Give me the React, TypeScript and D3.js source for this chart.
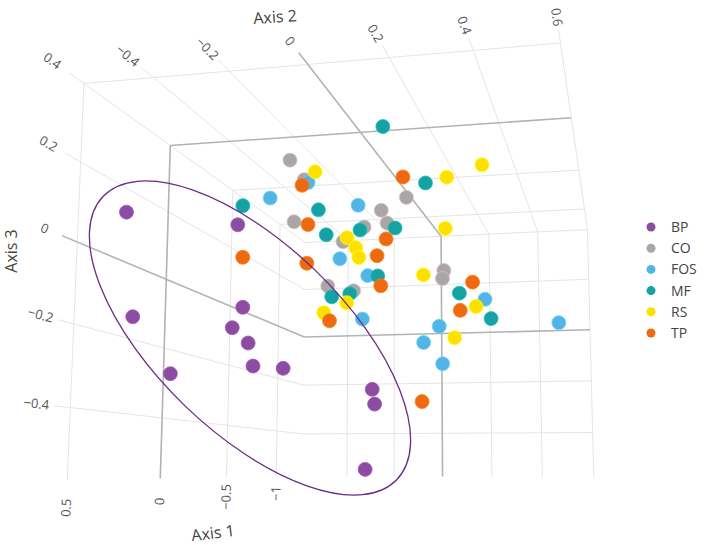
import React, { useEffect, useRef } from 'react';
import * as d3 from 'd3';

const WIDTH = 705;
const HEIGHT = 545;

// PCoA scores [Axis 1, Axis 2, Axis 3] per group
const bp = [
  [0.35, -0.54, 0.109], [0.35, -0.23, 0.061], [0.35, -0.512, -0.163], [0.35, -0.212, -0.148],
  [0.35, -0.239, -0.198], [0.35, -0.196, -0.237], [0.35, -0.182, -0.294], [0.35, -0.103, -0.301],
  [0.35, -0.403, -0.309], [0.35, 0.124, -0.355], [0.35, 0.13, -0.39], [0.35, 0.107, -0.543],
];
const co = [
  [0, -0.212, 0.332], [0, -0.168, 0.272], [0, 0.135, 0.204], [0, 0.062, 0.171],
  [0, -0.197, 0.151], [0, 0.079, 0.134], [0, 0.012, 0.126], [0, -0.05, 0.087],
  [0, 0.241, -0.006], [0, 0.237, -0.028], [0, -0.094, -0.037], [0, -0.018, -0.053],
];
const fos = [
  [0, -0.156, 0.263], [0, -0.271, 0.224], [0, -0.006, 0.189], [0, -0.059, 0.039],
  [0, 0.023, -0.012], [0, 0.008, -0.133], [0, 0.355, -0.089], [0, 0.554, -0.158],
  [0, 0.227, -0.159], [0, 0.183, -0.202], [0, 0.236, -0.261],
];
const mf = [
  [0.1, 0.09, 0.377], [0, 0.19, 0.242], [0, -0.355, 0.206], [0, -0.124, 0.182],
  [0, 0.102, 0.119], [0, 0.0, 0.118], [0, -0.1, 0.109], [0, 0.052, -0.014],
  [0, -0.082, -0.068], [0, -0.029, -0.061], [0, 0.284, -0.07], [0, 0.371, -0.142],
];
const rs = [
  [0, -0.135, 0.293], [0, 0.251, 0.255], [0, 0.351, 0.284], [0, 0.246, 0.111],
  [0, -0.038, 0.098], [0, -0.012, 0.068], [0, -0.003, 0.04], [0, 0.183, -0.016],
  [0, -0.038, -0.086], [0, -0.105, -0.112], [0, 0.33, -0.108], [0, 0.27, -0.191],
];
const tp = [
  [0, -0.174, 0.256], [0, 0.125, 0.263], [0, -0.155, 0.141], [0, 0.076, 0.089],
  [0, 0.05, 0.043], [0, -0.157, 0.03], [0, -0.352, 0.055], [0, 0.061, -0.042],
  [0, -0.088, -0.135], [0, 0.321, -0.041], [0, 0.286, -0.117], [0, 0.178, -0.362],
];

const groupNames = ['BP', 'CO', 'FOS', 'MF', 'RS', 'TP'];
const groupColors = ['#8c4ca1', '#aba5a5', '#55b4e6', '#16a2a2', '#fde000', '#ee6a12'];
const groupData = [bp, co, fos, mf, rs, tp];

const axis1Ticks = [0.5, 0, -0.5, -1];
const axis2Ticks = [-0.4, -0.2, 0, 0.2, 0.4, 0.6];
const axis3Ticks = [0.4, 0.2, 0, -0.2, -0.4];
const axis1Range = [-1.33, 0.57];
const axis2Range = [-0.59, 0.6];
const axis3Range = [-0.57, 0.4];

// where the scene box sits on screen (camera fit)
const frameAnchors: [number[], number[]][] = [
  [[0.5, -0.59, 0.4], [83, 86]],
  [[0.5, 0.6, 0.4], [563, 42]],
  [[0.5, -0.59, -0.57], [65, 477]],
  [[0, -0.59, 0.4], [170, 147]],
  [[0, 0.6, 0.4], [573, 117]],
  [[0, -0.59, -0.57], [158, 477]],
  [[-0.5, -0.59, -0.57], [226, 477]],
  [[-1, -0.59, -0.57], [277, 477]],
  [[-1.33, -0.59, 0.4], [305, 240]],
  [[-1.33, 0.6, 0.4], [588, 232]],
  [[-1.33, -0.59, -0.57], [305, 477]],
  [[-1.33, 0.6, -0.57], [592, 477]],
  [[-1.33, 0, -0.57], [444, 477]],
  [[-1.33, -0.59, 0], [305, 338]],
  [[-1.33, 0.6, 0], [590, 330]],
  [[0.5, -0.59, 0], [79, 243]],
  [[0, 0, 0.4], [361, 133]],
  [[-1.33, 0, 0.4], [440, 235]],
  [[0.5, 0, 0.4], [309, 66]],
  [[-0.5, 0.6, 0.4], [578, 169]],
  [[-1, 0.6, 0.4], [583, 208]],
  [[-0.5, -0.59, 0.4], [232, 190]],
  [[-1, -0.59, 0.4], [280, 224]],
];

function solve(A: number[][], b: number[]) {
  const n = b.length;
  const M = A.map((row, i) => [...row, b[i]]);
  for (let c = 0; c < n; c++) {
    let piv = c;
    for (let r = c + 1; r < n; r++) if (Math.abs(M[r][c]) > Math.abs(M[piv][c])) piv = r;
    [M[c], M[piv]] = [M[piv], M[c]];
    for (let r = 0; r < n; r++) {
      if (r === c) continue;
      const f = M[r][c] / M[c][c];
      for (let k = c; k <= n; k++) M[r][k] -= f * M[c][k];
    }
  }
  return M.map((row, i) => row[n] / row[i]);
}

// least squares fit of a 3x4 perspective matrix
function fitCamera(pairs: [number[], number[]][]) {
  const n = 11;
  const AtA = Array.from({ length: n }, () => new Array(n).fill(0));
  const Atb = new Array(n).fill(0);
  const add = (row: number[], rhs: number) => {
    for (let i = 0; i < n; i++) {
      Atb[i] += row[i] * rhs;
      for (let j = 0; j < n; j++) AtA[i][j] += row[i] * row[j];
    }
  };
  pairs.forEach(([[X, Y, Z], [u, v]]) => {
    add([X, Y, Z, 1, 0, 0, 0, 0, -u * X, -u * Y, -u * Z], u);
    add([0, 0, 0, 0, X, Y, Z, 1, -v * X, -v * Y, -v * Z], v);
  });
  return solve(AtA, Atb);
}

const fmt = (v: number) => (v < 0 ? '\u2212' : '') + String(Math.abs(v));

export default function App() {
  const svgRef = useRef<SVGSVGElement>(null);

  useEffect(() => {
    if (!svgRef.current) return;
    const svg = d3.select(svgRef.current);
    svg.selectAll('*').remove();

    const s1 = d3.scaleLinear().domain(axis1Range).range([0, 1]);
    const s2 = d3.scaleLinear().domain(axis2Range).range([0, 1]);
    const s3 = d3.scaleLinear().domain(axis3Range).range([0, 1]);
    const norm = (p: number[]) => [s1(p[0]), s2(p[1]), s3(p[2])];

    const cam = fitCamera(frameAnchors.map(([d, s]) => [norm(d), s] as [number[], number[]]));
    const proj = (a1: number, a2: number, a3: number): [number, number] => {
      const [X, Y, Z] = norm([a1, a2, a3]);
      const w = cam[8] * X + cam[9] * Y + cam[10] * Z + 1;
      return [
        (cam[0] * X + cam[1] * Y + cam[2] * Z + cam[3]) / w,
        (cam[4] * X + cam[5] * Y + cam[6] * Z + cam[7]) / w,
      ];
    };

    const [a1min, a1max] = axis1Range;
    const [a2min, a2max] = axis2Range;
    const [a3min, a3max] = axis3Range;

    const grid = svg.append('g').attr('fill', 'none');
    const seg = (p: [number, number], q: [number, number], zero: boolean) => {
      grid.append('line')
        .attr('x1', p[0]).attr('y1', p[1]).attr('x2', q[0]).attr('y2', q[1])
        .attr('stroke', zero ? '#b3b3b3' : '#e5e5e5')
        .attr('stroke-width', zero ? 1.6 : 1);
    };

    // non-zero lines first, zero lines on top
    [false, true].forEach(zeroPass => {
      axis1Ticks.filter(t => (t === 0) === zeroPass).forEach(t => {
        seg(proj(t, a2min, a3max), proj(t, a2max, a3max), zeroPass); // ceiling
        seg(proj(t, a2min, a3min), proj(t, a2min, a3max), zeroPass); // left wall
      });
      axis2Ticks.filter(t => (t === 0) === zeroPass).forEach(t => {
        seg(proj(a1min, t, a3max), proj(a1max, t, a3max), zeroPass); // ceiling
        seg(proj(a1min, t, a3min), proj(a1min, t, a3max), zeroPass); // back wall
      });
      axis3Ticks.filter(t => (t === 0) === zeroPass).forEach(t => {
        seg(proj(a1min, a2min, t), proj(a1max, a2min, t), zeroPass); // left wall
        seg(proj(a1min, a2min, t), proj(a1min, a2max, t), zeroPass); // back wall
      });
    });

    // tick labels, aligned with their grid line
    const labels = svg.append('g')
      .style('font-family', "'Open Sans', sans-serif")
      .style('font-size', '13px')
      .attr('fill', '#555');
    const tickLabel = (
      edge: [number, number], inward: [number, number], at: [number, number], text: string,
    ) => {
      const ang = (Math.atan2(inward[1] - edge[1], inward[0] - edge[0]) * 180) / Math.PI;
      labels.append('text')
        .attr('transform', `translate(${at[0]},${at[1]}) rotate(${ang})`)
        .attr('text-anchor', 'middle')
        .attr('dy', '0.35em')
        .text(text);
    };
    axis1Ticks.forEach(t => tickLabel(
      proj(t, a2min, a3min), proj(t, a2min, a3min + 0.1), proj(t, a2min, a3min - 0.064), fmt(t)));
    axis2Ticks.forEach(t => tickLabel(
      proj(a1max, t, a3max), proj(a1max - 0.1, t, a3max), proj(a1max + 0.065, t, a3max), fmt(t)));
    axis3Ticks.forEach(t => tickLabel(
      proj(a1max, a2min, t), proj(a1max - 0.1, a2min, t), proj(a1max + 0.075, a2min, t), fmt(t)));

    // axis titles
    const titles = svg.append('g')
      .style('font-family', "'Open Sans', sans-serif")
      .style('font-size', '16px')
      .attr('fill', '#444')
      .attr('text-anchor', 'middle');
    titles.append('text').attr('transform', 'translate(275,17) rotate(-4)').attr('dy', '0.35em').text('Axis 2');
    titles.append('text').attr('transform', 'translate(213,533) rotate(-7)').attr('dy', '0.35em').text('Axis 1');
    titles.append('text').attr('transform', 'translate(11,251) rotate(-90)').attr('dy', '0.35em').text('Axis 3');

    // markers
    const pts = svg.append('g');
    groupData.forEach((rows, gi) => {
      pts.selectAll(null)
        .data(rows)
        .join('circle')
        .attr('cx', d => proj(d[0], d[1], d[2])[0])
        .attr('cy', d => proj(d[0], d[1], d[2])[1])
        .attr('r', 7)
        .attr('fill', groupColors[gi])
        .attr('stroke', d3.rgb(groupColors[gi]).brighter(0.5).toString())
        .attr('stroke-width', 0.8);
    });

    // BP cluster ellipse
    svg.append('ellipse')
      .attr('transform', 'translate(250,338) rotate(44)')
      .attr('rx', 204)
      .attr('ry', 94)
      .attr('fill', 'none')
      .attr('stroke', '#6b2c86')
      .attr('stroke-width', 1.3);

    // legend
    const legend = svg.append('g')
      .style('font-family', "'Open Sans', sans-serif")
      .style('font-size', '14px');
    const ly = d3.scalePoint<string>().domain(groupNames).range([227, 333]);
    groupNames.forEach((name, i) => {
      const y = ly(name) as number;
      legend.append('circle').attr('cx', 651).attr('cy', y).attr('r', 4.5).attr('fill', groupColors[i]);
      legend.append('text').attr('x', 671).attr('y', y).attr('dy', '0.35em').attr('fill', '#444').text(name);
    });
  }, []);

  return (
    <div style={{ position: 'absolute', left: 0, top: 0 }}>
      <svg ref={svgRef} width={WIDTH} height={HEIGHT} style={{ display: 'block', background: '#fff' }} />
    </div>
  );
}
